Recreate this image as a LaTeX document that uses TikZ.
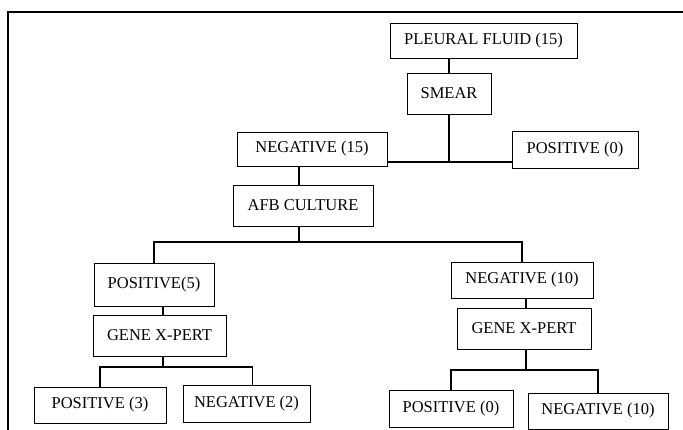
\documentclass[tikz,border=0pt]{standalone}
\usepackage{fontspec}
\setmainfont{Liberation Serif}
\usetikzlibrary{calc}

\begin{document}
\begin{tikzpicture}[x=1pt,y=-1pt,
    box/.style={draw, line width=0.7pt, inner sep=0pt, font=\fontsize{16.5}{18}\selectfont},
    link/.style={line width=1.3pt}]
    \useasboundingbox (0,0) rectangle (683,430);
    \clip (0,0) rectangle (683,430);
    \draw [line width=2.2pt] (8,12) rectangle (700,450);

    \node [box, minimum width=187pt, minimum height=35pt] (pleural) at (483.5,40.5) { PLEURAL FLUID (15) };
    \node [box, minimum width=84pt, minimum height=41pt] (smear) at (449,93.5) { SMEAR };
    \node [box, minimum width=150pt, minimum height=34pt] (neg15) at (312,149) { NEGATIVE (15) };
    \node [box, minimum width=126pt, minimum height=37pt] (pos0) at (575,149.5) { POSITIVE (0) };
    \node [box, minimum width=140pt, minimum height=41pt] (afb) at (303,205.5) { AFB CULTURE };
    \node [box, minimum width=120pt, minimum height=43pt] (pos5) at (154,284.5) { POSITIVE(5) };
    \node [box, minimum width=142pt, minimum height=36pt] (neg10) at (522,280) { NEGATIVE (10) };
    \node [box, minimum width=133pt, minimum height=41pt] (gxl) at (159.5,335.5) { GENE X-PERT };
    \node [box, minimum width=134pt, minimum height=41pt] (gxr) at (524,328.5) { GENE X-PERT };
    \node [box, minimum width=132pt, minimum height=36pt] (pos3) at (100,405) { POSITIVE (3) };
    \node [box, minimum width=127pt, minimum height=37pt] (neg2) at (246.5,403.5) { NEGATIVE (2) };
    \node [box, minimum width=124pt, minimum height=37pt] (pos0b) at (451,408.5) { POSITIVE (0) };
    \node [box, minimum width=140pt, minimum height=36pt] (neg10b) at (598,411) { NEGATIVE (10) };

    \coordinate (smearsplit) at (449,162);
    \coordinate (afbsplit) at (299,242);
    \coordinate (gxlsplit) at (163,367);
    \coordinate (gxrsplit) at (526,370);

    \draw [link] (pleural.south -| smear.north) -- (smear.north);
    \draw [link] (smear.south) -- (smearsplit);
    \draw [link] (neg15.east |- smearsplit) -- (pos0.west |- smearsplit);
    \draw [link] (neg15.south -| afbsplit) -- (afb.north -| afbsplit);
    \draw [link] (afb.south -| afbsplit) -- (afbsplit);
    \draw [link] (pos5.north) -- (pos5.north |- afbsplit) -- (neg10.north |- afbsplit) -- (neg10.north);
    \draw [link] (pos5.south -| gxlsplit) -- (gxl.north -| gxlsplit);
    \draw [link] (gxl.south -| gxlsplit) -- (gxlsplit);
    \draw [link] (pos3.north) -- (pos3.north |- gxlsplit) -- ([xshift=6pt]neg2.north |- gxlsplit) -- ([xshift=6pt]neg2.north);
    \draw [link] (neg10.south -| gxrsplit) -- (gxr.north -| gxrsplit);
    \draw [link] (gxr.south -| gxrsplit) -- (gxrsplit);
    \draw [link] (pos0b.north) -- (pos0b.north |- gxrsplit) -- (neg10b.north |- gxrsplit) -- (neg10b.north);
\end{tikzpicture}
\end{document}
